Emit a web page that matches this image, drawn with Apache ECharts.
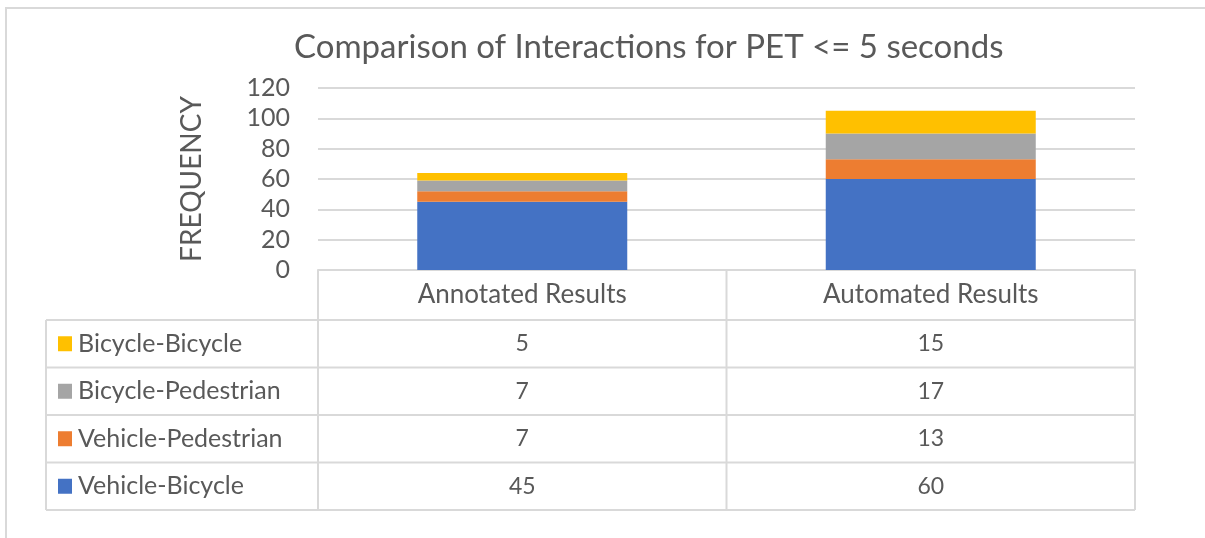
<!DOCTYPE html>
<html><head><meta charset="utf-8">
<script src="https://cdn.jsdelivr.net/npm/echarts@6/dist/echarts.min.js"></script>
<style>html,body{margin:0;padding:0;background:#fff}#c{width:1205px;height:538px}</style>
</head><body><div id="c"></div>
<script>
const categories = ['Annotated Results', 'Automated Results'];
const seriesNames = ['Vehicle-Bicycle', 'Vehicle-Pedestrian', 'Bicycle-Pedestrian', 'Bicycle-Bicycle'];
const vehicleBicycle = [45, 60];
const vehiclePedestrian = [7, 13];
const bicyclePedestrian = [7, 17];
const bicycleBicycle = [5, 15];
const yTicks = [0, 20, 40, 60, 80, 100, 120];
const colors = ['#4472C4', '#ED7D31', '#A5A5A5', '#FFC000'];
const seriesData = [vehicleBicycle, vehiclePedestrian, bicyclePedestrian, bicycleBicycle];

const FONT = 'Lato';
const TXT = '#595959';
const LINE = '#d9d9d9';
const gridL = 318, gridR = 1135, gridT = 88, gridB = 270;
const tableL = 46, rowH = 47.5, headH = 50;

const chart = echarts.init(document.getElementById('c'), null, {renderer: 'canvas'});

function buildGraphic() {
  const g = [];
  g.push({type: 'polyline', shape: {points: [[6, 538], [6, 8], [1205, 8]]}, style: {stroke: LINE, lineWidth: 2, fill: null}});
  const rowsTop = gridB + headH;
  const nRows = seriesNames.length;
  const bottom = rowsTop + rowH * nRows;
  const centers = categories.map((c) => chart.convertToPixel({xAxisIndex: 0}, c));
  const catW = (gridR - gridL) / categories.length;
  for (let i = 0; i <= categories.length; i++) {
    const x = gridL + catW * i;
    g.push({type: 'line', shape: {x1: x, y1: gridB, x2: x, y2: bottom}, style: {stroke: LINE, lineWidth: 2}});
  }
  g.push({type: 'line', shape: {x1: tableL, y1: rowsTop, x2: tableL, y2: bottom}, style: {stroke: LINE, lineWidth: 2}});
  for (let r = 0; r <= nRows; r++) {
    const y = rowsTop + rowH * r;
    g.push({type: 'line', shape: {x1: tableL, y1: y, x2: gridR, y2: y}, style: {stroke: LINE, lineWidth: 2}});
  }
  categories.forEach((c, i) => {
    g.push({type: 'text', x: centers[i], y: gridB + headH / 2, style: {text: c, font: '26px ' + FONT, fill: TXT, textAlign: 'center', textVerticalAlign: 'middle'}});
  });
  for (let r = 0; r < nRows; r++) {
    const si = nRows - 1 - r;
    const cy = rowsTop + rowH * r + rowH / 2;
    g.push({type: 'rect', shape: {x: 58, y: cy - 7.5, width: 14, height: 15}, style: {fill: colors[si]}});
    g.push({type: 'text', x: 78, y: cy, style: {text: seriesNames[si], font: '25px ' + FONT, fill: TXT, textAlign: 'left', textVerticalAlign: 'middle'}});
    seriesData[si].forEach((v, i) => {
      g.push({type: 'text', x: centers[i], y: cy, style: {text: String(v), font: '23px ' + FONT, fill: TXT, textAlign: 'center', textVerticalAlign: 'middle'}});
    });
  }
  return g;
}

chart.setOption({
  animation: false,
  title: {
    text: 'Comparison of Interactions for PET <= 5 seconds',
    left: 289, top: 26,
    textStyle: {fontFamily: FONT, fontSize: 33, fontWeight: 'normal', color: TXT}
  },
  grid: {left: gridL, right: 1205 - gridR, top: gridT, bottom: 538 - gridB, containLabel: false},
  xAxis: {
    type: 'category', data: categories,
    axisLine: {show: true, lineStyle: {color: LINE, width: 2}},
    axisTick: {show: false}, axisLabel: {show: false}
  },
  yAxis: {
    type: 'value', min: yTicks[0], max: yTicks[yTicks.length - 1], interval: yTicks[1] - yTicks[0],
    name: 'FREQUENCY', nameLocation: 'middle', nameRotate: 90, nameGap: 112,
    nameTextStyle: {fontFamily: FONT, fontSize: 28, color: TXT},
    axisLine: {show: false}, axisTick: {show: false},
    axisLabel: {fontFamily: FONT, fontSize: 25, color: TXT, margin: 28},
    splitLine: {lineStyle: {color: LINE, width: 2}}
  },
  series: seriesNames.map((n, i) => ({
    name: n, type: 'bar', stack: 'total', data: seriesData[i], barWidth: 210,
    itemStyle: {color: colors[i]}
  }))
});
chart.setOption({graphic: buildGraphic()});
</script></body></html>
